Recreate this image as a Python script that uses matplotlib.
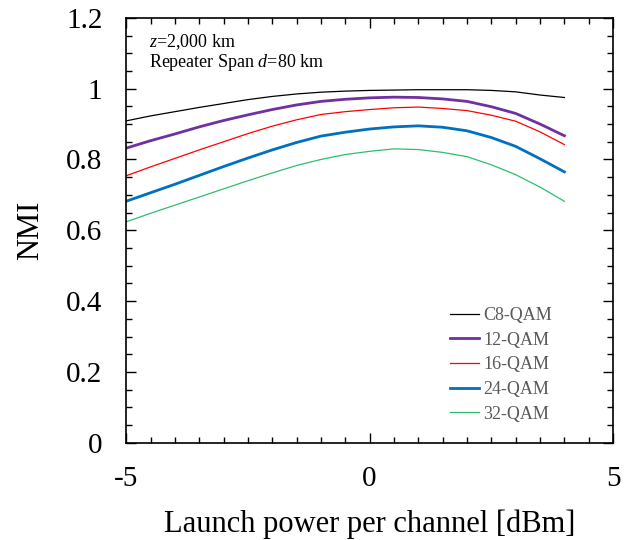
import matplotlib
matplotlib.use('Agg')
import matplotlib.pyplot as plt
from matplotlib.ticker import MultipleLocator

plt.rcParams['font.family'] = ['Liberation Serif', 'DejaVu Serif']
plt.rcParams['mathtext.fontset'] = 'custom'
plt.rcParams['mathtext.rm'] = 'Liberation Serif'
plt.rcParams['mathtext.it'] = 'Liberation Serif:italic'
plt.rcParams['axes.unicode_minus'] = False

# launch power [dBm]
power = [-5, -4.5, -4, -3.5, -3, -2.5, -2, -1.5, -1, -0.5, 0,
         0.5, 1, 1.5, 2, 2.5, 3, 3.5, 4]

nmi_c8 = [0.909, 0.923, 0.935, 0.947, 0.958, 0.969, 0.978, 0.985, 0.990, 0.993,
          0.995, 0.996, 0.997, 0.997, 0.997, 0.995, 0.991, 0.982, 0.975]
nmi_12 = [0.832, 0.853, 0.872, 0.892, 0.910, 0.926, 0.941, 0.954, 0.964, 0.970,
          0.974, 0.976, 0.975, 0.971, 0.964, 0.949, 0.930, 0.900, 0.867]
nmi_16 = [0.754, 0.779, 0.803, 0.827, 0.850, 0.873, 0.894, 0.912, 0.927, 0.935,
          0.941, 0.946, 0.948, 0.944, 0.938, 0.925, 0.908, 0.878, 0.842]
nmi_24 = [0.682, 0.706, 0.730, 0.755, 0.780, 0.804, 0.827, 0.848, 0.866, 0.877,
          0.886, 0.892, 0.895, 0.891, 0.881, 0.862, 0.837, 0.802, 0.765]
nmi_32 = [0.624, 0.648, 0.671, 0.694, 0.717, 0.740, 0.762, 0.783, 0.800, 0.814,
          0.823, 0.830, 0.828, 0.820, 0.808, 0.785, 0.757, 0.722, 0.682]

labels = ['C8-QAM', '12-QAM', '16-QAM', '24-QAM', '32-QAM']
series = [nmi_c8, nmi_12, nmi_16, nmi_24, nmi_32]
colors = ['black', '#7030A0', '#FF0000', '#0070C0', '#2DBE6C']
widths = [0.9, 2.0, 0.9, 2.0, 0.9]

fig = plt.figure(figsize=(6.34, 5.4), dpi=100)
ax = fig.add_axes([0.199, 0.180, 0.768, 0.787])

for y, lab, c, w in zip(series, labels, colors, widths):
    ax.plot(power, y, color=c, lw=w, label=lab)

ax.set_xlim(-5, 5)
ax.set_ylim(0, 1.2)
ax.xaxis.set_major_locator(MultipleLocator(5))
ax.xaxis.set_minor_locator(MultipleLocator(0.5))
ax.yaxis.set_minor_locator(MultipleLocator(0.05))
ax.set_yticks([0, 0.2, 0.4, 0.6, 0.8, 1.0, 1.2])
ax.set_yticklabels(['0', '0.2', '0.4', '0.6', '0.8', '1', '1.2'])
ax.tick_params(which='both', direction='in', top=True, right=True,
               labelsize=21, pad=17, width=1.0)
ax.tick_params(which='major', length=7)
ax.tick_params(which='minor', length=4.5)
for sp in ax.spines.values():
    sp.set_linewidth(1.2)

ax.set_xlabel('Launch power per channel [dBm]', fontsize=22, labelpad=12)
ax.set_ylabel('NMI', fontsize=22, labelpad=15)

ax.text(0.047, 0.944, '$z$=2,000 km', transform=ax.transAxes,
        fontsize=13, va='center', ha='left')
ax.text(0.047, 0.896, 'Repeater Span $d$=80 km', transform=ax.transAxes,
        fontsize=13, va='center', ha='left')

leg = ax.legend(loc='upper left', bbox_to_anchor=(0.665, 0.319), frameon=False,
                fontsize=13, handlelength=1.6, handletextpad=0.25,
                labelspacing=0.42, borderaxespad=0, borderpad=0)
for t in leg.get_texts():
    t.set_color('#595959')

fig.savefig('out.png', dpi=100)
